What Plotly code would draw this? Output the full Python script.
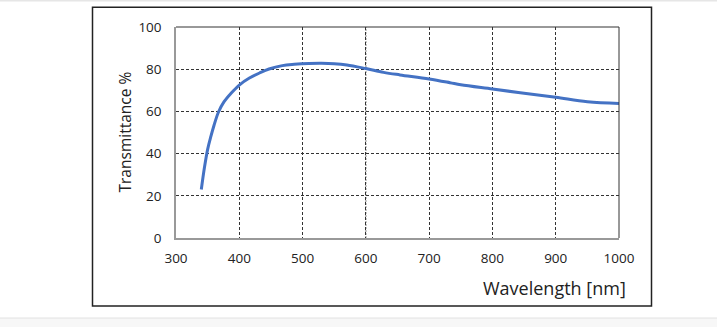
import plotly.graph_objects as go

wavelength = [340, 345, 350, 355, 360, 367, 376, 387, 400, 416, 432, 447, 468, 487,
              510, 530, 550, 570, 600, 628, 654, 700, 733, 750, 800, 850, 900, 950, 1000]
transmittance = [23.0, 33.5, 42.0, 48.0, 53.3, 59.6, 64.6, 68.6, 72.5, 75.8, 78.2, 80.1,
                 81.7, 82.3, 82.7, 82.8, 82.6, 82.0, 80.3, 78.5, 77.3, 75.4, 73.6, 72.6,
                 70.6, 68.6, 66.7, 64.6, 63.8]
x_ticks = [300, 400, 500, 600, 700, 800, 900, 1000]
y_ticks = [0, 20, 40, 60, 80, 100]
x_title = "Wavelength [nm]"
y_title = "Transmittance %"

W, H = 717, 327
L, R, T, B = 176, 98, 27, 89
pw, ph = W - L - R, H - T - B

def px(xp):
    return (xp - L) / pw

def py(yp):
    return (H - B - yp) / ph

FONT = "Open Sans"

fig = go.Figure()
fig.add_trace(go.Scatter(
    x=wavelength, y=transmittance, mode="lines",
    line=dict(color="#4472C4", width=3, shape="spline", smoothing=1.0),
    hoverinfo="skip", showlegend=False,
))

shapes = []
# outer frame
shapes.append(dict(type="rect", xref="paper", yref="paper",
                   x0=px(92.5), x1=px(651.5), y0=py(306), y1=py(7.3),
                   line=dict(color="#222", width=1.5), layer="below"))
# page strips
shapes.append(dict(type="rect", xref="paper", yref="paper",
                   x0=px(0), x1=px(W), y0=py(1.5), y1=py(0),
                   line=dict(width=0), fillcolor="#e6e6e6", layer="below"))
shapes.append(dict(type="rect", xref="paper", yref="paper",
                   x0=px(0), x1=px(W), y0=py(H), y1=py(318),
                   line=dict(width=0), fillcolor="#f7f7f7", layer="below"))
shapes.append(dict(type="line", xref="paper", yref="paper",
                   x0=px(0), x1=px(W), y0=py(318), y1=py(318),
                   line=dict(color="#e2e2e2", width=1), layer="below"))
# gray dotted gridline at 600
shapes.append(dict(type="line", xref="x", yref="paper",
                   x0=x_ticks[3], x1=x_ticks[3], y0=0, y1=1,
                   line=dict(color="#ffffff", width=2), layer="below"))
shapes.append(dict(type="line", xref="x", yref="paper",
                   x0=x_ticks[3], x1=x_ticks[3], y0=0, y1=1,
                   line=dict(color="#aaaaaa", width=1.5, dash="2px,1px"), layer="below"))
# top and right plot borders
shapes.append(dict(type="line", xref="paper", yref="paper", x0=0, x1=1, y0=1, y1=1,
                   line=dict(color="#333", width=1)))
shapes.append(dict(type="line", xref="paper", yref="paper", x0=1, x1=1, y0=0, y1=1,
                   line=dict(color="#333", width=1)))

fig.update_layout(
    width=W, height=H,
    margin=dict(l=L, r=R, t=T, b=B, pad=0),
    paper_bgcolor="white", plot_bgcolor="white",
    font=dict(family=FONT, color="#222", size=13),
    shapes=shapes,
    annotations=[
        dict(text=x_title, xref="paper", yref="paper", x=px(628), y=py(288),
             xanchor="right", yanchor="middle", showarrow=False,
             font=dict(family=FONT, size=18, color="#222")),
        dict(text=y_title, xref="paper", yref="paper", x=px(124), y=0.5,
             xanchor="center", yanchor="middle", textangle=-90, showarrow=False,
             font=dict(family=FONT, size=15.5, color="#222")),
    ],
    xaxis=dict(range=[300, 1000], tickvals=x_ticks, ticktext=[str(v) for v in x_ticks],
               showgrid=True, gridcolor="#333", griddash="3px,2px", gridwidth=1,
               showline=True, linecolor="#999", linewidth=1.5,
               ticks="outside", ticklen=7, tickcolor="rgba(0,0,0,0)",
               zeroline=False, fixedrange=True,
               tickfont=dict(family=FONT, size=13.5, color="#222")),
    yaxis=dict(range=[0, 100], tickvals=y_ticks, ticktext=[str(v) for v in y_ticks],
               showgrid=True, gridcolor="#333", griddash="3px,2px", gridwidth=1,
               showline=True, linecolor="#999", linewidth=1.5,
               ticks="outside", ticklen=10, tickcolor="rgba(0,0,0,0)",
               zeroline=False, fixedrange=True,
               tickfont=dict(family=FONT, size=13.5, color="#222")),
)

fig.write_html("out.html", config=dict(displayModeBar=False),
               post_script="document.body.style.margin='0';document.body.style.padding='0';")
